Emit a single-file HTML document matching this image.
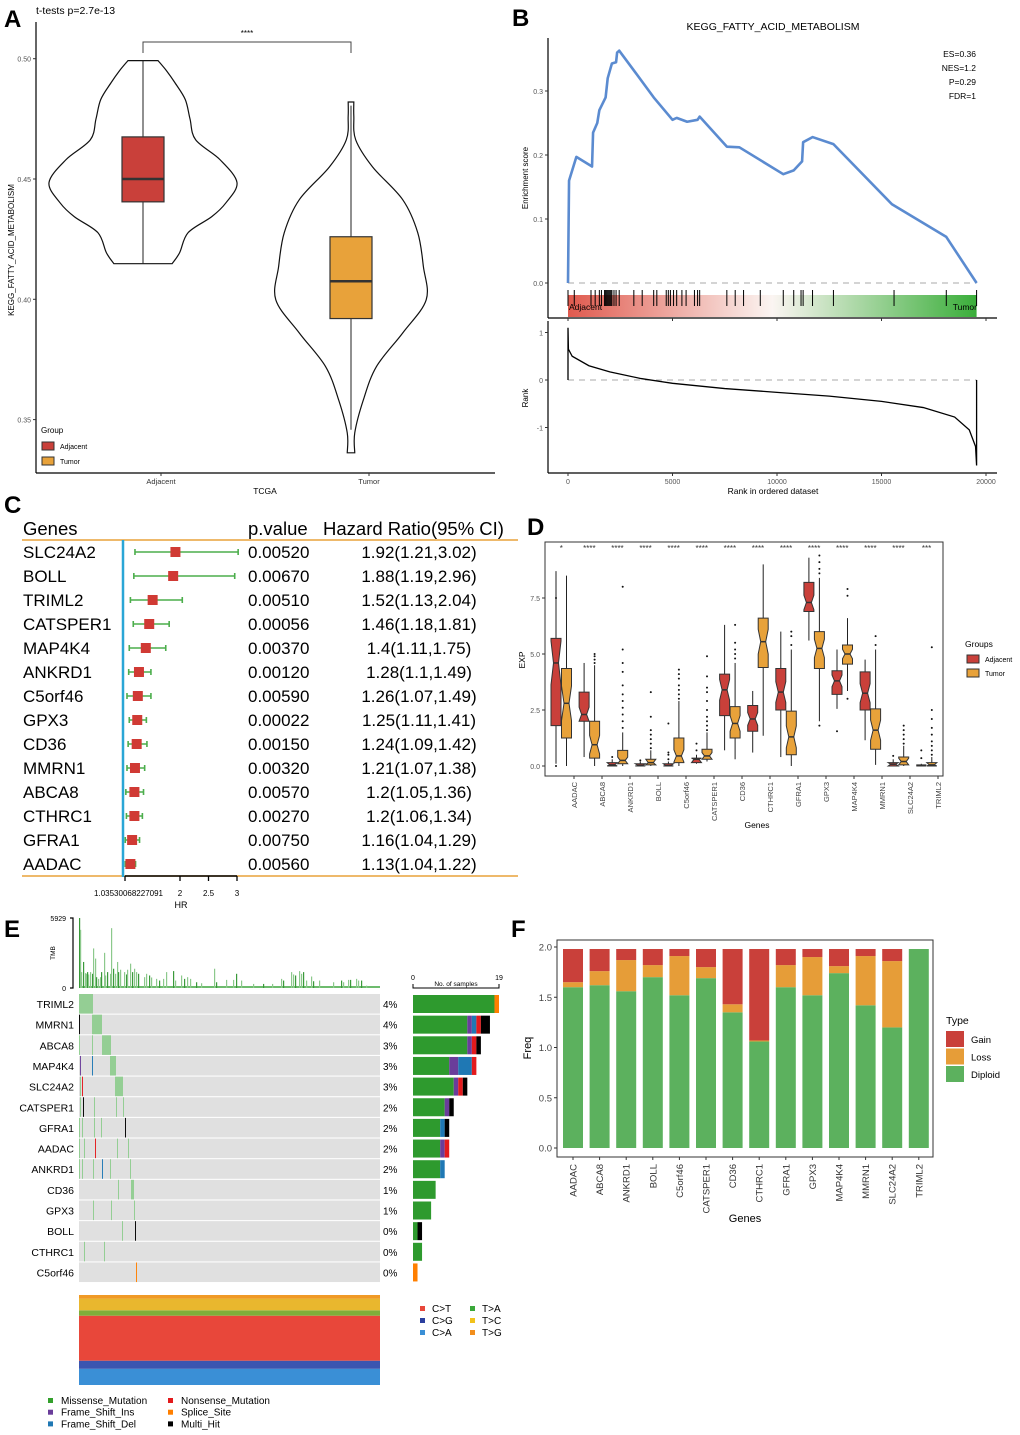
<!DOCTYPE html>
<html><head><meta charset="utf-8"><style>
html,body{margin:0;padding:0;background:#fff}
svg{display:block;font-family:"Liberation Sans",Arial,sans-serif}
</style></head><body>
<svg id="fig" width="1020" height="1435" viewBox="0 0 1020 1435" xmlns="http://www.w3.org/2000/svg">
<text x="4" y="27" font-size="24" font-weight="bold">A</text>
<text x="512" y="26" font-size="24" font-weight="bold">B</text>
<text x="4" y="513" font-size="24" font-weight="bold">C</text>
<text x="527" y="535" font-size="24" font-weight="bold">D</text>
<text x="4" y="937" font-size="24" font-weight="bold">E</text>
<text x="511" y="937" font-size="24" font-weight="bold">F</text>
</svg>
<script>
// ---------- DATA ----------
const aCats=['Adjacent','Tumor'];
const aAdjVals=[0.4992,0.495,0.49,0.483,0.475,0.4663,0.458,0.4485,0.44,0.4343,0.4277,0.4194,0.4148];
const aAdjDens=[0.16,0.25,0.34,0.45,0.5,0.56,0.82,1.0,0.88,0.73,0.48,0.39,0.31];
const aTumVals=[0.482,0.476,0.4663,0.455,0.4414,0.4277,0.4136,0.3998,0.386,0.372,0.358,0.3445,0.3362];
const aTumDens=[0.03,0.03,0.05,0.23,0.55,0.71,0.77,0.8,0.55,0.27,0.13,0.04,0.04];
const aAdjBox=[0.415,0.4405,0.45,0.4675,0.4992];
const aTumBox=[0.3458,0.392,0.4075,0.426,0.4805];
const aTicks=[0.35,0.40,0.45,0.50];

const bEsRank=[0,50,400,1150,1200,1400,1500,1800,1900,2100,2300,2350,2450,3200,4100,5000,5200,5700,6200,6300,7600,8200,10300,10800,11200,11250,11700,12700,15500,18100,19550];
const bEsVal=[0,0.16,0.197,0.182,0.235,0.25,0.27,0.29,0.32,0.343,0.345,0.36,0.363,0.33,0.29,0.255,0.258,0.252,0.255,0.26,0.213,0.212,0.17,0.176,0.19,0.22,0.228,0.217,0.123,0.072,0.0];
const bHits=[0,300,1100,1300,1500,1600,1750,1800,1850,1900,1950,2000,2050,2100,2200,2300,2450,3150,3550,4100,4250,4700,4800,4900,5050,5200,5450,5650,6050,6200,6300,7600,8000,8400,9200,10300,10800,11150,11250,11700,12700,15600,18100,19550];
const bRankX=[0,20,200,1000,2000,3500,5000,7500,10000,12500,15000,17000,18500,19200,19500,19550];
const bRankV=[1.1,0.65,0.5,0.3,0.17,0.03,-0.07,-0.18,-0.26,-0.34,-0.45,-0.58,-0.78,-1.05,-1.4,-1.8];
const bEsTicks=[0,0.1,0.2,0.3];
const bRankTicks=[1,0,-1];
const bXTicks=[0,5000,10000,15000,20000];

const cGenes=['SLC24A2','BOLL','TRIML2','CATSPER1','MAP4K4','ANKRD1','C5orf46','GPX3','CD36','MMRN1','ABCA8','CTHRC1','GFRA1','AADAC'];
const cHR=[1.92,1.88,1.52,1.46,1.4,1.28,1.26,1.25,1.24,1.21,1.2,1.2,1.16,1.13];
const cLo=[1.21,1.19,1.13,1.18,1.11,1.1,1.07,1.11,1.09,1.07,1.05,1.06,1.04,1.04];
const cHi=[3.02,2.96,2.04,1.81,1.75,1.49,1.49,1.41,1.42,1.38,1.36,1.34,1.29,1.22];
const cP=['0.00520','0.00670','0.00510','0.00056','0.00370','0.00120','0.00590','0.00022','0.00150','0.00320','0.00570','0.00270','0.00750','0.00560'];
const cHRText=['1.92(1.21,3.02)','1.88(1.19,2.96)','1.52(1.13,2.04)','1.46(1.18,1.81)','1.4(1.11,1.75)','1.28(1.1,1.49)','1.26(1.07,1.49)','1.25(1.11,1.41)','1.24(1.09,1.42)','1.21(1.07,1.38)','1.2(1.05,1.36)','1.2(1.06,1.34)','1.16(1.04,1.29)','1.13(1.04,1.22)'];
const cTicks=[1.03530068227091,2,2.5,3];
const cTickLabels=['1.03530068227091','2','2.5','3'];

const dGenes=['AADAC','ABCA8','ANKRD1','BOLL','C5orf46','CATSPER1','CD36','CTHRC1','GFRA1','GPX3','MAP4K4','MMRN1','SLC24A2','TRIML2'];
const dStars=['*','****','****','****','****','****','****','****','****','****','****','****','****','***'];
const dAdj=[[0.1,1.8,4.6,5.7,8.7],[0.4,2.0,2.3,3.3,4.6],[0,0,0.05,0.15,0.3],[0,0,0.03,0.1,0.2],[0,0,0.02,0.1,0.2],[0.1,0.15,0.3,0.35,0.5],[0.7,2.25,3.4,4.1,6.3],[0.6,1.55,2.1,2.7,3.35],[0.4,2.5,3.3,4.35,6.0],[5.6,6.9,7.3,8.2,9.3],[2.55,3.2,3.8,4.25,5.2],[1.15,2.5,3.25,4.2,4.75],[0,0,0.08,0.15,0.3],[0,0,0.02,0.05,0.1]];
const dTum=[[0,1.25,2.8,4.35,8.5],[0,0.35,0.95,2.0,4.5],[0,0.1,0.25,0.7,1.5],[0,0.05,0.15,0.3,0.7],[0,0.15,0.45,1.25,2.9],[0.2,0.3,0.45,0.75,1.5],[0.3,1.25,1.9,2.65,4.6],[1.35,4.4,5.55,6.6,9.0],[0,0.5,1.3,2.45,5.2],[2.0,4.35,5.25,6.0,8.4],[3.35,4.55,5.0,5.4,6.6],[0.05,0.75,1.6,2.55,5.2],[0,0.05,0.2,0.4,0.9],[0,0,0.05,0.15,0.4]];
const dAdjOut=[[7.5,0.0],[],[0.4],[0.25],[0.3,0.5,0.6,1.9],[0.7,1.0],[],[],[],[],[1.55],[],[0.45],[0.35,0.7]];
const dTumOut=[[],[4.6,4.75,4.9,5.0],[1.7,2.0,2.3,2.6,2.9,3.2,3.6,4.2,4.6,5.2,8.0],[0.8,1.0,1.2,1.4,1.6,2.2,3.3],[3.0,3.2,3.4,3.6,3.9,4.1,4.3],[1.6,1.8,2.0,2.2,2.5,2.9,3.3,3.5,4.0,4.9],[4.8,5.0,5.2,5.5,6.3],[],[5.4,5.8,6.0],[1.8,8.6,8.8,9.1,9.4],[3.0,7.6,7.9],[5.4,5.8],[1.0,1.2,1.4,1.6,1.8],[0.5,0.7,0.9,1.1,1.4,1.7,2.1,2.5,5.3]];
const dTicks=[0,2.5,5,7.5];

const eGenes=['TRIML2','MMRN1','ABCA8','MAP4K4','SLC24A2','CATSPER1','GFRA1','AADAC','ANKRD1','CD36','GPX3','BOLL','CTHRC1','C5orf46'];
const ePct=['4%','4%','3%','3%','3%','2%','2%','2%','2%','1%','1%','0%','0%','0%'];
const eTypes=['Missense_Mutation','Frame_Shift_Ins','Frame_Shift_Del','Nonsense_Mutation','Splice_Site','Multi_Hit'];
const eTypeColors=['#33a02c','#6a3d9a','#1f78b4','#e31a1c','#ff7f00','#000000'];
const eCounts=[[18,0,0,0,1,0],[12,1,1,1,0,2],[12,1,0,1,0,1],[8,2,3,1,0,0],[9,1,0,1,0,1],[7,1,0,0,0,1],[6,0,1,0,0,1],[6,1,0,1,0,0],[6,0,1,0,0,0],[5,0,0,0,0,0],[4,0,0,0,0,0],[1,0,0,0,0,1],[2,0,0,0,0,0],[0,0,0,0,1,0]];
const eHits=[[[0,13,0]],[[0,0,5],[13,22,0]],[[0,0,0],[13,13,0],[23,31,0]],[[1,1,1],[13,13,2],[31,36,0]],[[1,1,0],[3,3,3],[36,43,0]],[[1,1,0],[4,4,5],[15,15,0],[37,37,0],[44,44,0]],[[0,0,0],[3,3,0],[15,15,0],[22,22,0],[46,46,5]],[[0,0,0],[5,5,0],[16,16,3],[38,38,0],[49,49,0]],[[0,0,0],[3,3,0],[14,14,0],[23,23,2],[31,31,0],[51,51,0]],[[39,39,0],[52,54,0]],[[14,14,0],[32,32,0],[55,55,0]],[[43,43,0],[56,56,5]],[[5,5,0],[25,25,0]],[[57,57,4]]];
const eTmbIdx=[0,1,2,4,6,7,8,9,11,13,14,16,17,19,21,22,25,26,28,31,32,34,36,38,39,41,45,47,48,51,53,55,57,59,65,67,70,72,77,80,84,87,94,96,102,105,108,111,117,122,135,137,147,154,157,162,174,184,193,202,204,212,214,216,220,222,224,227,232,234,240,254,262,264,269,271,277,279,282,287];
const eTmbVal=[5929,4926,1346,2205,1260,1203,1346,1146,1346,1203,3351,2492,917,773,917,1346,2979,1060,1346,1203,5069,1632,1203,2205,1346,1547,1346,1146,1547,2062,1346,1632,1346,1203,917,1203,1060,890,773,630,773,1346,1432,630,1060,773,917,773,487,401,1632,487,687,687,1203,630,344,344,344,773,630,1346,1146,1060,1432,1203,1346,630,973,573,630,487,630,487,687,687,773,630,630,200];
const eSigLabels=['C>A','C>G','C>T','T>A','T>C','T>G'];
const eSigColors=['#3a8fd6','#2b3f9e','#e8473a','#3aa83a','#f2c21b','#f28e1c'];
const eSigBand=['#3a8fd6','#3b55b0','#e8473a','#7fae3a','#e9b72e','#f09a26'];
const eSigFrac=[0.18,0.09,0.50,0.06,0.13,0.04];

const fGenes=['AADAC','ABCA8','ANKRD1','BOLL','C5orf46','CATSPER1','CD36','CTHRC1','GFRA1','GPX3','MAP4K4','MMRN1','SLC24A2','TRIML2'];
const fDiploid=[1.6,1.62,1.56,1.70,1.52,1.69,1.35,1.06,1.60,1.52,1.74,1.42,1.20,1.98];
const fLoss=[0.05,0.14,0.31,0.12,0.39,0.11,0.08,0.01,0.22,0.38,0.07,0.49,0.66,0];
const fGain=[0.33,0.22,0.11,0.16,0.07,0.18,0.55,0.91,0.16,0.08,0.17,0.07,0.12,0];
const fTicks=[0,0.5,1.0,1.5,2.0];

// ---------- HELPERS ----------
const NS='http://www.w3.org/2000/svg';
const svg=document.getElementById('fig');
function mk(tag,attrs,parent){const e=document.createElementNS(NS,tag);for(const k in attrs)e.setAttribute(k,attrs[k]);(parent||svg).appendChild(e);return e;}
function tx(str,attrs,parent){const e=mk('text',attrs,parent);e.textContent=str;return e;}
function smooth(pts){let d='M'+pts[0][0]+','+pts[0][1];for(let i=0;i<pts.length-1;i++){const p0=pts[Math.max(0,i-1)],p1=pts[i],p2=pts[i+1],p3=pts[Math.min(pts.length-1,i+2)];const c1=[p1[0]+(p2[0]-p0[0])/6,p1[1]+(p2[1]-p0[1])/6],c2=[p2[0]-(p3[0]-p1[0])/6,p2[1]-(p3[1]-p1[1])/6];d+=' C'+c1+' '+c2+' '+p2;}return d;}
const RED='#c9403a',ORA='#e8a23a';

// ---------- PANEL A ----------
const gA=mk('g',{});


const yA=v=>179-(v-0.45)*2406;
const xA=i=>143+208*i;
const maxHalf=94;
mk('line',{x1:36,y1:22,x2:36,y2:473,stroke:'#000','stroke-width':1.2},gA);
mk('line',{x1:36,y1:473,x2:495,y2:473,stroke:'#000','stroke-width':1.2},gA);
aTicks.forEach(t=>{mk('line',{x1:33,y1:yA(t),x2:36,y2:yA(t),stroke:'#333'},gA);
 const l=tx(t.toFixed(2),{x:31,y:yA(t)+3,'font-size':7,'text-anchor':'end',fill:'#555'},gA);
 
 });
function violin(vals,dens,i,name){const cx=xA(i);const r=vals.map((v,k)=>[cx+dens[k]*maxHalf,yA(v)]);const l=vals.map((v,k)=>[cx-dens[k]*maxHalf,yA(v)]).reverse();
 const d=smooth(r)+' L'+l[0]+' '+smooth(l).slice(1).replace(/^[^C]*/,'')+' Z';
 const p=mk('path',{d:d,fill:'none',stroke:'#111','stroke-width':1.2},gA);
 
 }
violin(aAdjVals,aAdjDens,0,'violin-adjacent');
violin(aTumVals,aTumDens,1,'violin-tumor');
function boxA(b,i,col,name){const cx=xA(i);mk('line',{x1:cx,y1:yA(b[0]),x2:cx,y2:yA(b[4]),stroke:'#222','stroke-width':1},gA);
 const r=mk('rect',{x:cx-21,y:yA(b[3]),width:42,height:yA(b[1])-yA(b[3]),fill:col,stroke:'#333','stroke-width':1.2},gA);
 
 
 mk('line',{x1:cx-21,y1:yA(b[2]),x2:cx+21,y2:yA(b[2]),stroke:'#333','stroke-width':2.5},gA);}
boxA(aAdjBox,0,RED,'box-adjacent');
boxA(aTumBox,1,ORA,'box-tumor');
mk('path',{d:`M${xA(0)},53 V42 H${xA(1)} V53`,fill:'none',stroke:'#444','stroke-width':1},gA);
const st=tx('****',{x:247,y:36,'font-size':8,'text-anchor':'middle'},gA);


aCats.forEach((c,i)=>{mk('line',{x1:xA(i)+18,y1:473,x2:xA(i)+18,y2:476,stroke:'#333'},gA);
 const l=tx(c,{x:xA(i)+18,y:484,'font-size':7.5,'text-anchor':'middle',fill:'#333'},gA);
 
 });
const ta=tx('t-tests p=2.7e-13',{x:36,y:14,'font-size':10.5},gA);


const xt=tx('TCGA',{x:265,y:494,'font-size':8.5,'text-anchor':'middle'},gA);


const yt=tx('KEGG_FATTY_ACID_METABOLISM',{x:0,y:0,'font-size':8,'text-anchor':'middle',transform:'translate(14,250) rotate(-90)'},gA);


const lg=tx('Group',{x:41,y:433,'font-size':8},gA);


[['Adjacent',RED],['Tumor',ORA]].forEach((e,k)=>{const y=442+k*15;mk('rect',{x:42,y:y,width:12,height:8,fill:e[1],stroke:'#333'},gA);
 const l=tx(e[0],{x:60,y:y+7,'font-size':7},gA);
 
 });

// ---------- PANEL B ----------
const gB=mk('g',{});


const xB=r=>568+r*418/20000, yB=v=>283-v*640, yR=v=>380-v*47.5;
const grad=mk('linearGradient',{id:'gbar',x1:0,x2:1,y1:0,y2:0},mk('defs',{},gB));
mk('stop',{offset:'0','stop-color':'#e05a4e'},grad);mk('stop',{offset:'0.5','stop-color':'#fbf5f2'},grad);mk('stop',{offset:'1','stop-color':'#3aae3a'},grad);
mk('line',{x1:548,y1:38,x2:548,y2:318,stroke:'#000','stroke-width':1.2},gB);
mk('line',{x1:548,y1:318,x2:997,y2:318,stroke:'#000','stroke-width':1.2},gB);
mk('line',{x1:548,y1:321,x2:548,y2:473,stroke:'#000','stroke-width':1.2},gB);
mk('line',{x1:548,y1:473,x2:997,y2:473,stroke:'#000','stroke-width':1.2},gB);
const gbr=mk('rect',{x:xB(0),y:295,width:xB(19550)-xB(0),height:22,fill:'url(#gbar)'},gB);


mk('line',{x1:xB(0),y1:yB(0),x2:xB(19550),y2:yB(0),stroke:'#aaa','stroke-dasharray':'6,5'},gB);
mk('line',{x1:xB(0),y1:yR(0),x2:xB(19550),y2:yR(0),stroke:'#aaa','stroke-dasharray':'6,5'},gB);
bHits.forEach(h=>{const l=mk('line',{x1:xB(h),y1:290,x2:xB(h),y2:306,stroke:'#000','stroke-width':1},gB);
 
 });
const esp=mk('polyline',{points:bEsRank.map((r,i)=>xB(r)+','+yB(bEsVal[i])).join(' '),fill:'none',stroke:'#5b8bd0','stroke-width':2.6,'stroke-linejoin':'round'},gB);


const rp=mk('polyline',{points:xB(0)+','+yR(0)+' '+bRankX.map((r,i)=>xB(r)+','+yR(bRankV[i])).join(' ')+' '+xB(19550)+','+yR(0),fill:'none',stroke:'#000','stroke-width':1.3},gB);


bEsTicks.forEach(t=>{mk('line',{x1:545,y1:yB(t),x2:548,y2:yB(t),stroke:'#333'},gB);
 const l=tx(t.toFixed(1),{x:543,y:yB(t)+3,'font-size':7,'text-anchor':'end',fill:'#555'},gB);
 
 });
bRankTicks.forEach(t=>{mk('line',{x1:545,y1:yR(t),x2:548,y2:yR(t),stroke:'#333'},gB);
 const l=tx(String(t),{x:543,y:yR(t)+3,'font-size':7,'text-anchor':'end',fill:'#555'},gB);
 
 });
bXTicks.forEach(t=>{mk('line',{x1:xB(t),y1:473,x2:xB(t),y2:476,stroke:'#333'},gB);mk('line',{x1:xB(t),y1:318,x2:xB(t),y2:321,stroke:'#333'},gB);
 const l=tx(String(t),{x:xB(t),y:484,'font-size':7,'text-anchor':'middle',fill:'#555'},gB);
 
 });
const bt=tx('KEGG_FATTY_ACID_METABOLISM',{x:773,y:30,'font-size':10.5,'text-anchor':'middle'},gB);


['ES=0.36','NES=1.2','P=0.29','FDR=1'].forEach((s,k)=>{const l=tx(s,{x:976,y:57+k*14,'font-size':8.5,'text-anchor':'end'},gB);
 
 });
const ad=tx('Adjacent',{x:569,y:310,'font-size':8.5},gB);


const tu=tx('Tumor',{x:977,y:310,'font-size':8.5,'text-anchor':'end'},gB);


const bx=tx('Rank in ordered dataset',{x:773,y:494,'font-size':8.5,'text-anchor':'middle'},gB);


const by1=tx('Enrichment score',{x:0,y:0,'font-size':8,'text-anchor':'middle',transform:'translate(528,178) rotate(-90)'},gB);


const by2=tx('Rank',{x:0,y:0,'font-size':8,'text-anchor':'middle',transform:'translate(528,398) rotate(-90)'},gB);



// ---------- PANEL C ----------
const gC=mk('g',{});


const xC=v=>66+57*v, yC=i=>552+24*i;
[['Genes',23,'start'],['p.value',248,'start'],['Hazard Ratio(95% CI)',323,'start']].forEach(h=>{const l=tx(h[0],{x:h[1],y:535,'font-size':18.5,'text-anchor':h[2]},gC);
 
 });
mk('line',{x1:22,y1:540,x2:518,y2:540,stroke:'#e8a23a','stroke-width':1.5},gC);
mk('line',{x1:22,y1:876,x2:518,y2:876,stroke:'#e8a23a','stroke-width':1.5},gC);
const ref=mk('line',{x1:123,y1:540,x2:123,y2:877,stroke:'#2aa6d6','stroke-width':2.5},gC);


cGenes.forEach((g,i)=>{const y=yC(i);
 const n=tx(g,{x:23,y:y+6,'font-size':17},gC);
 
 
 const p=tx(cP[i],{x:248,y:y+6,'font-size':17},gC);
 
 
 const h=tx(cHRText[i],{x:419,y:y+6,'font-size':17,'text-anchor':'middle'},gC);
 
 
 const ci=mk('path',{d:`M${xC(cLo[i])},${y} H${xC(cHi[i])} M${xC(cLo[i])},${y-3} V${y+3} M${xC(cHi[i])},${y-3} V${y+3}`,stroke:'#4cae4c','stroke-width':1.6,fill:'none'},gC);
 
 
 const sq=mk('rect',{x:xC(cHR[i])-5,y:y-5,width:10,height:10,fill:'#d03a34'},gC);
 
 });
mk('line',{x1:xC(cTicks[0]),y1:876,x2:xC(3),y2:876,stroke:'#000','stroke-width':1.5},gC);
cTicks.forEach((t,k)=>{mk('line',{x1:xC(t),y1:876,x2:xC(t),y2:881,stroke:'#000','stroke-width':1.3},gC);
 const l=tx(cTickLabels[k],{x:k==0?163:xC(t),y:896,'font-size':8,'text-anchor':k==0?'end':'middle'},gC);
 
 });
const hrt=tx('HR',{x:181,y:908,'font-size':9,'text-anchor':'middle'},gC);



// ---------- PANEL D ----------
const gD=mk('g',{});


const yD=v=>766-v*22.4, xDr=i=>556+28.1*i, xDo=i=>566.5+28.1*i;
mk('rect',{x:545,y:542,width:398,height:234,fill:'none',stroke:'#333','stroke-width':1},gD);
dTicks.forEach(t=>{mk('line',{x1:542,y1:yD(t),x2:545,y2:yD(t),stroke:'#333'},gD);
 const l=tx(t.toFixed(1),{x:540,y:yD(t)+3,'font-size':7,'text-anchor':'end',fill:'#555'},gD);
 
 });
function notchBox(b,cx,col){const w=5,nw=2.5,n=Math.max(0.15,(b[3]-b[1])*0.25);
 mk('line',{x1:cx,y1:yD(b[0]),x2:cx,y2:yD(b[4]),stroke:'#222','stroke-width':1},gD);
 const lo=Math.max(b[1],b[2]-n),hi=Math.min(b[3],b[2]+n);
 const pts=[[cx-w,yD(b[3])],[cx+w,yD(b[3])],[cx+w,yD(hi)],[cx+nw,yD(b[2])],[cx+w,yD(lo)],[cx+w,yD(b[1])],[cx-w,yD(b[1])],[cx-w,yD(lo)],[cx-nw,yD(b[2])],[cx-w,yD(hi)]];
 const p=mk('polygon',{points:pts.map(q=>q.join(',')).join(' '),fill:col,stroke:'#333','stroke-width':1},gD);
 mk('line',{x1:cx-nw,y1:yD(b[2]),x2:cx+nw,y2:yD(b[2]),stroke:'#333','stroke-width':1.5},gD);
 return p;}
dGenes.forEach((g,i)=>{
 const a=notchBox(dAdj[i],xDr(i),RED);
 
 
 const t=notchBox(dTum[i],xDo(i),ORA);
 
 
 dAdjOut[i].forEach(v=>{const c=mk('circle',{cx:xDr(i),cy:yD(v),r:1,fill:'#111'},gD);
  
  });
 dTumOut[i].forEach(v=>{const c=mk('circle',{cx:xDo(i),cy:yD(v),r:1,fill:'#111'},gD);
  
  });
 const s=tx(dStars[i],{x:(xDr(i)+xDo(i))/2,y:551,'font-size':8,'text-anchor':'middle',fill:'#333'},gD);
 
 
 const tk=574+28*i;
 mk('line',{x1:tk,y1:776,x2:tk,y2:779,stroke:'#333'},gD);
 const l=tx(g,{x:0,y:0,'font-size':7.5,'text-anchor':'end',fill:'#444',transform:`translate(${tk+3},782) rotate(-90)`},gD);
 
 });
const dxt=tx('Genes',{x:757,y:828,'font-size':8.5,'text-anchor':'middle'},gD);


const dyt=tx('EXP',{x:0,y:0,'font-size':8.5,'text-anchor':'middle',transform:'translate(525,660) rotate(-90)'},gD);


const dlg=tx('Groups',{x:965,y:647,'font-size':8.5},gD);


[['Adjacent',RED],['Tumor',ORA]].forEach((e,k)=>{const y=655+k*14;mk('rect',{x:967,y:y,width:12,height:8,fill:e[1],stroke:'#333'},gD);
 const l=tx(e[0],{x:985,y:y+7,'font-size':7},gD);
 
 });

// ---------- PANEL E ----------
const gE=mk('g',{});


const xE=s=>79+s, yE=r=>994+r*20.65, tmbY=v=>988-v/5929*70, nX=n=>413+n*86/19;
mk('path',{d:'M70,918 H73 V988 H70',fill:'none',stroke:'#000','stroke-width':1.2},gE);
tx('5929',{x:66,y:921,'font-size':7,'text-anchor':'end'},gE);
tx('0',{x:66,y:991,'font-size':7,'text-anchor':'end'},gE);
const tmbT=tx('TMB',{x:0,y:0,'font-size':6.5,'text-anchor':'middle',transform:'translate(55,953) rotate(-90)'},gE);


mk('line',{x1:79,y1:987,x2:380,y2:987,stroke:'#6dbb6d','stroke-width':2},gE);
eTmbIdx.forEach((s,k)=>{const r=mk('rect',{x:xE(s),y:tmbY(eTmbVal[k]),width:1.2,height:988-tmbY(eTmbVal[k]),fill:k%3==0?'#3a9a3a':'#8cc98c'},gE);
 
 });
eGenes.forEach((g,r)=>{const y=yE(r);
 mk('rect',{x:79,y:y,width:301,height:19.6,fill:'#e0e0e0'},gE);
 eHits[r].forEach(h=>{const c=mk('rect',{x:xE(h[0]),y:y,width:h[1]-h[0]+1,height:19.6,fill:h[2]==0?'#8fcc8f':eTypeColors[h[2]],opacity:0.95},gE);
  
  });
 const l=tx(g,{x:74,y:y+14,'font-size':10.5,'text-anchor':'end'},gE);
 
 
 const p=tx(ePct[r],{x:383,y:y+14,'font-size':10},gE);
 
 
 let acc=0;eCounts[r].forEach((c,t)=>{if(!c)return;const b=mk('rect',{x:nX(acc),y:y+1,width:nX(acc+c)-nX(acc),height:18,fill:t==0?'#2e9a2e':eTypeColors[t]},gE);
  
  acc+=c;});});
mk('path',{d:`M${nX(0)},984 V988 H${nX(19)} V984`,fill:'none',stroke:'#000','stroke-width':1},gE);
tx('0',{x:nX(0),y:980,'font-size':7,'text-anchor':'middle'},gE);
tx('19',{x:nX(19),y:980,'font-size':7,'text-anchor':'middle'},gE);
const ns=tx('No. of samples',{x:456,y:986,'font-size':6.5,'text-anchor':'middle'},gE);


let sy=1385;const sigH=90;
eSigFrac.forEach((f,k)=>{const h=f*sigH;const r=mk('rect',{x:79,y:sy-h,width:301,height:h,fill:eSigBand[k]},gE);
 
 sy-=h;});
const sigOrder=[[2,0],[1,1],[0,2],[3,0],[4,1],[5,2]];
sigOrder.forEach((o,k)=>{const x=k<3?420:470,y=1312+o[1]*12;mk('rect',{x:x,y:y-6,width:5,height:5,fill:eSigColors[o[0]]},gE);
 const l=tx(eSigLabels[o[0]],{x:x+12,y:y,'font-size':10},gE);
 
 });
const legOrder=[[0,0,0],[1,0,1],[2,0,2],[3,1,0],[4,1,1],[5,1,2]];
legOrder.forEach(o=>{const x=o[1]?168:48,y=1404+o[2]*11.7;mk('rect',{x:x,y:y-6,width:5,height:5,fill:eTypeColors[o[0]]},gE);
 const l=tx(eTypes[o[0]],{x:x+13,y:y,'font-size':10},gE);
 
 });

// ---------- PANEL F ----------
const gF=mk('g',{});


const yF=v=>1148-v*100.5, xF=i=>573+26.6*i;
mk('rect',{x:557,y:940,width:376,height:217,fill:'none',stroke:'#333','stroke-width':1},gF);
fTicks.forEach(t=>{mk('line',{x1:554,y1:yF(t),x2:557,y2:yF(t),stroke:'#333'},gF);
 const l=tx(t.toFixed(1),{x:552,y:yF(t)+3.5,'font-size':9.5,'text-anchor':'end',fill:'#444'},gF);
 
 });
fGenes.forEach((g,i)=>{const x=xF(i)-10;
 const d=mk('rect',{x:x,y:yF(fDiploid[i]),width:20,height:yF(0)-yF(fDiploid[i]),fill:'#5cb15e'},gF);
 
 
 const lo=mk('rect',{x:x,y:yF(fDiploid[i]+fLoss[i]),width:20,height:yF(fDiploid[i])-yF(fDiploid[i]+fLoss[i]),fill:'#e69d38'},gF);
 
 
 const ga=mk('rect',{x:x,y:yF(fDiploid[i]+fLoss[i]+fGain[i]),width:20,height:yF(fDiploid[i]+fLoss[i])-yF(fDiploid[i]+fLoss[i]+fGain[i]),fill:'#c9403a'},gF);
 
 
 mk('line',{x1:xF(i),y1:1157,x2:xF(i),y2:1160,stroke:'#333'},gF);
 const l=tx(g,{x:0,y:0,'font-size':9.5,'text-anchor':'end',fill:'#333',transform:`translate(${xF(i)+3.5},1164) rotate(-90)`},gF);
 
 });
const fxt=tx('Genes',{x:745,y:1222,'font-size':11,'text-anchor':'middle'},gF);


const fyt=tx('Freq',{x:0,y:0,'font-size':11,'text-anchor':'middle',transform:'translate(531,1048) rotate(-90)'},gF);


const flg=tx('Type',{x:946,y:1024,'font-size':10.5},gF);


[['Gain','#c9403a'],['Loss','#e69d38'],['Diploid','#5cb15e']].forEach((e,k)=>{const y=1031+k*17.5;mk('rect',{x:946,y:y,width:18,height:16,fill:e[1]},gF);
 const l=tx(e[0],{x:971,y:y+12,'font-size':9.5},gF);
 
 });
</script>
</body></html>
